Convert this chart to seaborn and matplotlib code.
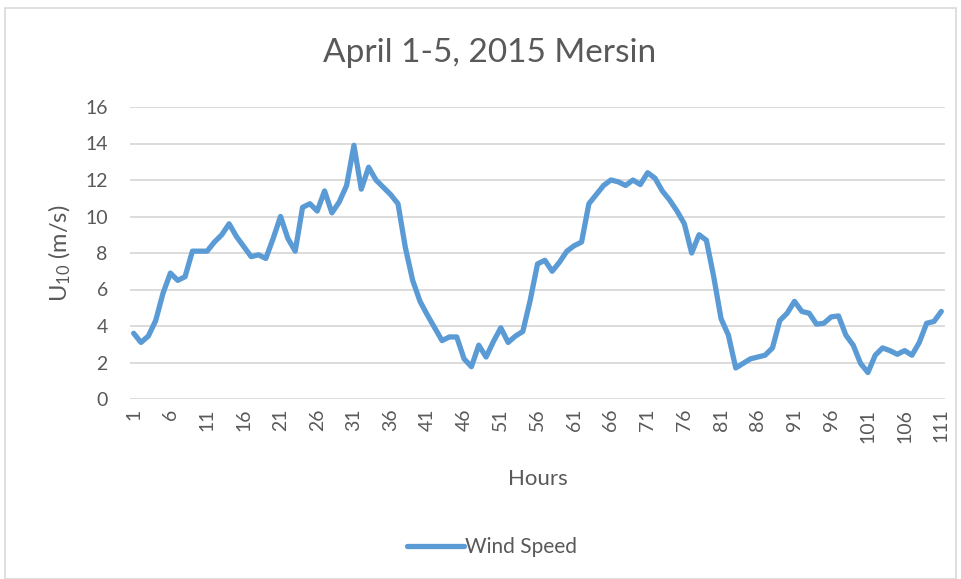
import matplotlib
matplotlib.use("Agg")
import matplotlib.pyplot as plt
from matplotlib.patches import Rectangle
import numpy as np
import pandas as pd
import seaborn as sns

# Hourly 10 m wind speed, Mersin, 1-5 April 2015
hours = list(range(1, 112))
wind_speed = [
    3.6, 3.1, 3.45, 4.3, 5.8, 6.9, 6.5, 6.7, 8.1, 8.1,
    8.1, 8.6, 9.0, 9.6, 8.9, 8.35, 7.8, 7.9, 7.7, 8.8,
    10.0, 8.8, 8.1, 10.5, 10.7, 10.3, 11.4, 10.2, 10.8, 11.7,
    13.9, 11.5, 12.7, 12.0, 11.6, 11.2, 10.7, 8.3, 6.5, 5.35,
    4.6, 3.9, 3.2, 3.4, 3.4, 2.2, 1.77, 2.95, 2.3, 3.15,
    3.9, 3.1, 3.45, 3.7, 5.4, 7.4, 7.6, 7.0, 7.5, 8.1,
    8.4, 8.6, 10.7, 11.2, 11.7, 12.0, 11.9, 11.7, 12.0, 11.75,
    12.4, 12.1, 11.4, 10.9, 10.3, 9.6, 8.0, 9.0, 8.7, 6.7,
    4.4, 3.5, 1.7, 1.95, 2.2, 2.3, 2.4, 2.8, 4.3, 4.7,
    5.35, 4.8, 4.7, 4.1, 4.15, 4.5, 4.55, 3.5, 2.95, 1.95,
    1.45, 2.4, 2.8, 2.65, 2.45, 2.65, 2.4, 3.1, 4.15, 4.25,
    4.8,
]
x_ticks = list(range(1, 112, 5))
y_ticks = list(range(0, 17, 2))

title = "April 1-5, 2015 Mersin"
series_name = "Wind Speed"

df = pd.DataFrame({"Hours": hours, "value": wind_speed, "series": series_name})

sns.set_style("white")
plt.rcParams["font.family"] = ["Lato", "DejaVu Sans"]
plt.rcParams["mathtext.default"] = "regular"

text_color = "#595959"
grid_color = "#D9D9D9"
line_color = "#5B9BD5"

fig = plt.figure(figsize=(9.61, 5.79), dpi=100)
ax = fig.add_axes([130 / 961, 1 - 399 / 579, (945 - 130) / 961, (399 - 107) / 579])

sns.lineplot(data=df, x="Hours", y="value", hue="series",
             palette=[line_color], linewidth=3.8, ax=ax, legend=False)

ax.set_xlim(0.5, 111.5)
ax.set_ylim(0, 16)
ax.set_yticks(y_ticks)
ax.set_xticks(x_ticks)
ax.set_xticklabels([str(t) for t in x_ticks], rotation=90)
ax.tick_params(axis="both", length=0, labelsize=14, colors=text_color)
ax.tick_params(axis="x", pad=7)
ax.tick_params(axis="y", pad=16)
ax.yaxis.grid(True, color=grid_color, linewidth=1.3)
ax.set_axisbelow(True)
for s in ax.spines.values():
    s.set_visible(False)

ax.set_xlabel("Hours", fontsize=16, color=text_color, labelpad=19)
ax.set_ylabel(r"U$_{10}$ (m/s)", fontsize=17, color=text_color, labelpad=9)
fig.text(490 / 961, 1 - 53 / 579, title, fontsize=24, color=text_color,
         ha="center", va="center")

# legend below the plot
handle = plt.Line2D([], [], color=line_color, linewidth=3.8)
fig.legend([handle], [series_name], loc="center", bbox_to_anchor=(492 / 961, 1 - 547 / 579),
           frameon=False, fontsize=15, labelcolor=text_color, handlelength=2.7,
           handletextpad=0.05)

# chart frame
fig.patches.append(Rectangle((5 / 961, 0), 0.99, 1 - 8 / 579, transform=fig.transFigure,
                             fill=False, edgecolor=grid_color, linewidth=1.2))

fig.savefig("out.png", dpi=100)
